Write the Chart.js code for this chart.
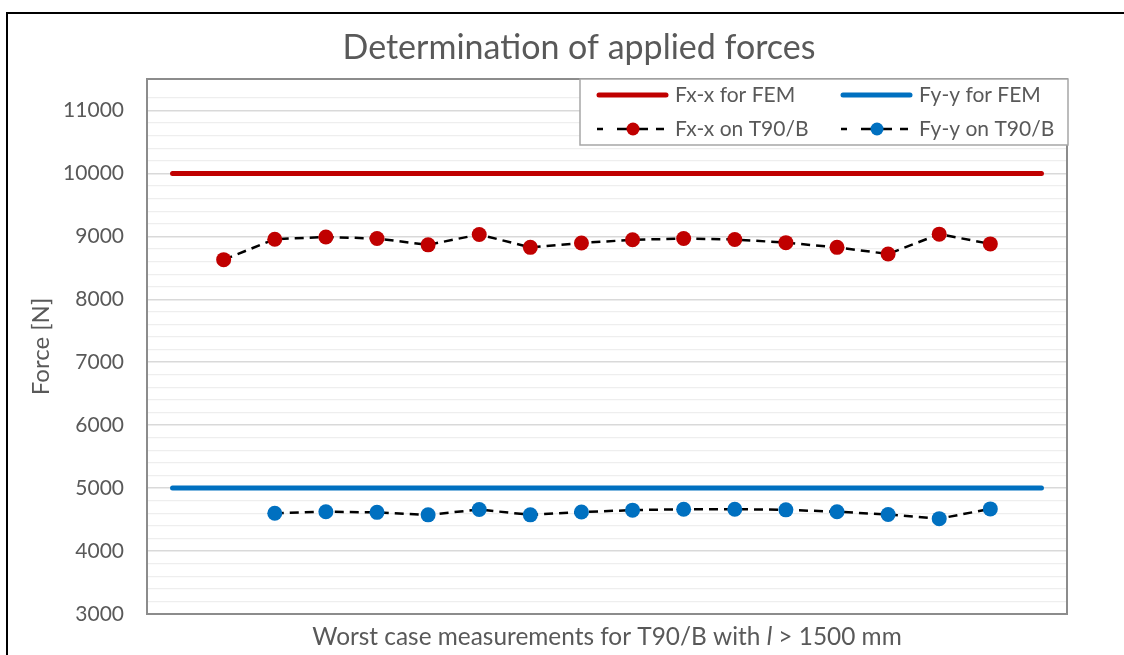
<!DOCTYPE html>
<html>
<head>
<meta charset="utf-8">
<title>Determination of applied forces</title>
<script src="https://cdn.jsdelivr.net/npm/chart.js@4.4.0/dist/chart.umd.min.js"></script>
<style>
  html, body { margin: 0; padding: 0; background: #fff; overflow: hidden; }
  #wrap { position: relative; width: 1124px; height: 655px; }
</style>
</head>
<body>
<div id="wrap"><canvas id="forceChart" width="1124" height="655"></canvas></div>
<script>
// measurement slots (first and last are only used by the FEM reference lines)
const categories = ['', '1', '2', '3', '4', '5', '6', '7', '8', '9', '10', '11', '12', '13', '14', '15', '16', ''];

const fxFemLevel = 10000;
const fyFemLevel = 5000;

const fxMeasured = [null, 8630, 8955, 8990, 8965, 8865, 9030, 8825, 8895, 8945, 8965, 8950, 8900, 8825, 8720, 9035, 8880, null];
const fyMeasured = [null, null, 4600, 4625, 4615, 4575, 4660, 4575, 4620, 4650, 4665, 4665, 4655, 4625, 4580, 4515, 4670, null];

const yMin = 3000;
const yMax = 11500;
const yMinorStep = 200;
const yMajorStep = 1000;

const RED = '#C00000';
const BLUE = '#0070C0';
const TEXT = '#595959';
const FONT = 'Lato, "Open Sans", sans-serif';

const chartTitle = 'Determination of applied forces';
const xTitleParts = [
    { text: 'Worst case measurements for T90/B with ', italic: false },
    { text: 'l', italic: true },
    { text: ' > 1500 mm', italic: false }
];

const datasets = [
    {
        label: 'Fx-x for FEM',
        data: categories.map(() => fxFemLevel),
        borderColor: RED,
        borderWidth: 5,
        borderCapStyle: 'round',
        pointRadius: 0,
        order: 4
    },
    {
        label: 'Fy-y for FEM',
        data: categories.map(() => fyFemLevel),
        borderColor: BLUE,
        borderWidth: 5,
        borderCapStyle: 'round',
        pointRadius: 0,
        order: 3
    },
    {
        label: 'Fx-x on T90/B',
        data: fxMeasured,
        borderColor: '#000',
        borderWidth: 2.5,
        borderDash: [9, 6],
        pointRadius: 7.5,
        pointBorderWidth: 0,
        pointBackgroundColor: RED,
        pointBorderColor: RED,
        order: 2
    },
    {
        label: 'Fy-y on T90/B',
        data: fyMeasured,
        borderColor: '#000',
        borderWidth: 2.5,
        borderDash: [9, 6],
        pointRadius: 7.5,
        pointBorderWidth: 0,
        pointBackgroundColor: BLUE,
        pointBorderColor: BLUE,
        order: 1
    }
];

// outer frame, plot border, titles and the boxed legend
const decorations = {
    id: 'decorations',
    beforeDraw(chart) {
        const ctx = chart.ctx;
        ctx.save();
        ctx.fillStyle = '#000';
        ctx.fillRect(6, 12, 2, chart.height - 12);
        ctx.fillRect(6, 12, chart.width - 6, 2);
        ctx.restore();
    },
    beforeDatasetsDraw(chart) {
        const a = chart.chartArea;
        const ctx = chart.ctx;
        ctx.save();
        ctx.strokeStyle = '#8C8C8C';
        ctx.lineWidth = 2;
        ctx.strokeRect(a.left, a.top, a.right - a.left, a.bottom - a.top);
        ctx.restore();
    },
    afterDraw(chart) {
        const a = chart.chartArea;
        const ctx = chart.ctx;
        ctx.save();

        // chart title
        ctx.fillStyle = TEXT;
        ctx.textBaseline = 'middle';
        ctx.textAlign = 'center';
        ctx.font = '34px ' + FONT;
        ctx.fillText(chartTitle, 579, 48);

        // x axis title with italic length symbol
        ctx.textAlign = 'left';
        const fontFor = p => (p.italic ? 'italic ' : '') + '24.4px ' + FONT;
        let total = 0;
        xTitleParts.forEach(p => { ctx.font = fontFor(p); total += ctx.measureText(p.text).width; });
        let x = (a.left + a.right) / 2 - total / 2;
        xTitleParts.forEach(p => {
            ctx.font = fontFor(p);
            ctx.fillText(p.text, x, 637);
            x += ctx.measureText(p.text).width;
        });

        // legend box
        const boxW = 488, boxH = 66;
        const bx = a.right + 1 - boxW, by = a.top;
        ctx.fillStyle = '#fff';
        ctx.fillRect(bx, by, boxW, boxH);
        ctx.strokeStyle = '#A6A6A6';
        ctx.lineWidth = 1.5;
        ctx.strokeRect(bx, by, boxW, boxH);

        const cols = [bx + 17, bx + 261];
        const rows = [by + 16, by + 50];
        ctx.font = '21px ' + FONT;
        datasets.forEach((ds, i) => {
            const cx = cols[i % 2];
            const cy = rows[Math.floor(i / 2)];
            ctx.save();
            ctx.strokeStyle = ds.borderColor;
            ctx.lineWidth = ds.borderWidth;
            if (ds.pointRadius === 0) {
                ctx.lineCap = 'round';
                ctx.beginPath();
                ctx.moveTo(cx + 2, cy);
                ctx.lineTo(cx + 69, cy);
                ctx.stroke();
            } else {
                ctx.setLineDash([6, 14, 31, 8, 8, 100]);
                ctx.beginPath();
                ctx.moveTo(cx, cy);
                ctx.lineTo(cx + 68, cy);
                ctx.stroke();
                ctx.fillStyle = ds.pointBackgroundColor;
                ctx.beginPath();
                ctx.arc(cx + 36, cy, 6.5, 0, Math.PI * 2);
                ctx.fill();
            }
            ctx.restore();
            ctx.fillStyle = TEXT;
            ctx.textAlign = 'left';
            ctx.textBaseline = 'middle';
            ctx.fillText(ds.label, cx + 78, cy);
        });
        ctx.restore();
    }
};

const ctx = document.getElementById('forceChart').getContext('2d');
new Chart(ctx, {
    type: 'line',
    data: { labels: categories, datasets: datasets },
    plugins: [decorations],
    options: {
        responsive: false,
        animation: false,
        layout: { padding: { top: 79, right: 57, left: 0, bottom: 0 } },
        plugins: {
            legend: { display: false },
            title: { display: false },
            tooltip: { enabled: false }
        },
        scales: {
            x: {
                type: 'category',
                offset: true,
                grid: { display: false },
                border: { display: false },
                ticks: { display: false },
                afterFit(scale) { scale.height = 41; }
            },
            y: {
                min: yMin,
                max: yMax,
                border: { display: false },
                grid: {
                    drawTicks: false,
                    color: c => (c.tick.value % yMajorStep === 0 ? '#D9D9D9' : '#EEEEEE'),
                    lineWidth: c => (c.tick.value % yMajorStep === 0 ? 1.5 : 1.2)
                },
                ticks: {
                    stepSize: yMinorStep,
                    autoSkip: false,
                    padding: 23,
                    color: TEXT,
                    font: { family: FONT, size: 21 },
                    callback: v => (v % yMajorStep === 0 ? String(v) : '')
                },
                title: {
                    display: true,
                    text: 'Force [N]',
                    color: TEXT,
                    font: { family: FONT, size: 24 },
                    padding: { top: 27, bottom: 0 }
                },
                afterFit(scale) { scale.width = 147; }
            }
        }
    }
});
</script>
</body>
</html>
